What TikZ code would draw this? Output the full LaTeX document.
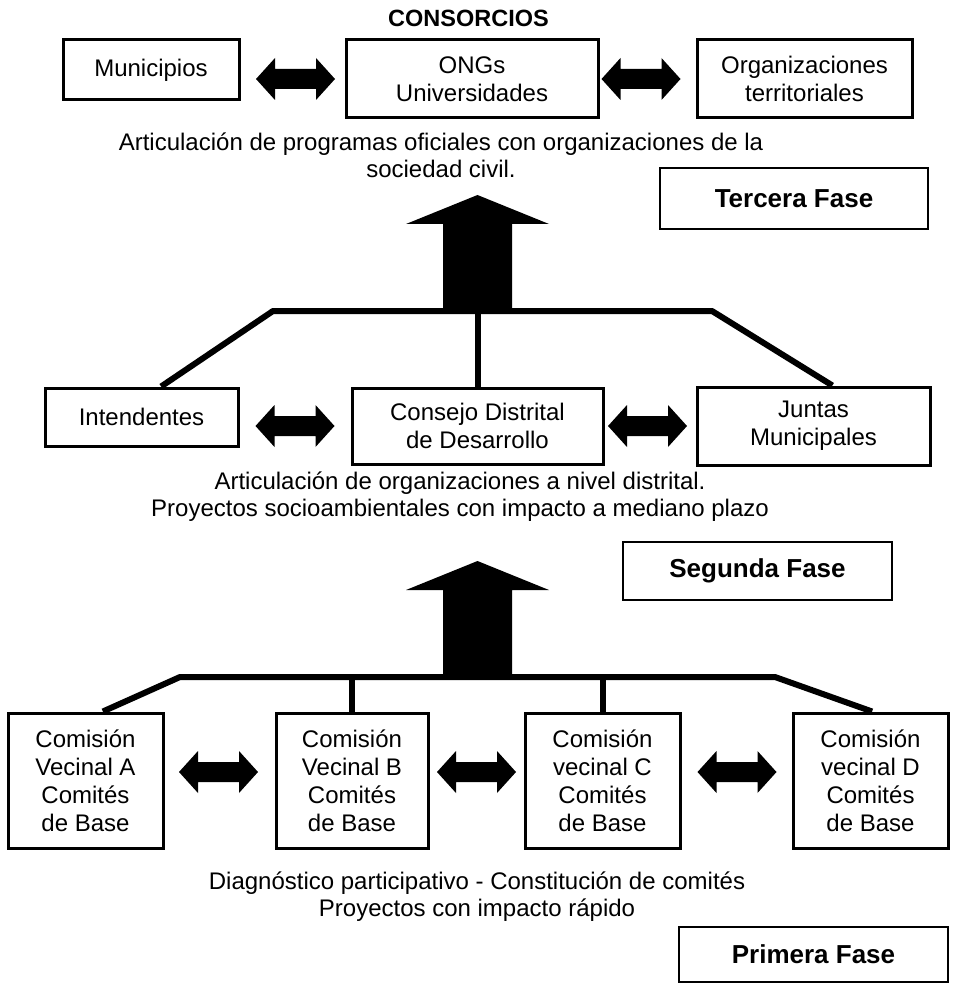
\documentclass[tikz,border=0pt]{standalone}
\usepackage{fontspec}
\setmainfont{Liberation Sans}
\usetikzlibrary{calc}
\tikzset{
  box/.style={draw, line width=3pt, align=center, inner sep=0pt, font=\fontsize{24}{28}\selectfont},
  fase/.style={draw, line width=2pt, inner sep=0pt, font=\bfseries\fontsize{26}{30}\selectfont},
  txt/.style={align=center, inner sep=0pt, font=\fontsize{24}{27}\selectfont},
  link/.style={line width=6pt, line join=bevel},
  dblarrow/.pic={\fill (-39.5,0) -- (-20.5,-21) -- (-20.5,-10) -- (20.5,-10) -- (20.5,-21) -- (39.5,0) -- (20.5,21) -- (20.5,10) -- (-20.5,10) -- (-20.5,21) -- cycle;},
  uparrow/.pic={\fill (0,0) -- (71.5,29) -- (34.5,29) -- (34.5,116) -- (-34.5,116) -- (-34.5,29) -- (-71.5,29) -- cycle;}
}
\begin{document}
\begin{tikzpicture}[x=1pt,y=-1pt]
\useasboundingbox (0,0) rectangle (954,984);
\fill[white] (0,0) rectangle (954,984);

% ---- Tercera fase (top) ----
\node[inner sep=0pt, font=\bfseries\fontsize{23.5}{27}\selectfont] (cons) at (468.5,18) {CONSORCIOS};
\node[box, minimum width=176, minimum height=60] (mun) at (151,70) {Municipios};
\node[box, minimum width=252, minimum height=78] (ong) at (472,79) {ONGs\\Universidades};
\node[box, minimum width=215, minimum height=78] (org) at (804.5,79) {Organizaciones\\territoriales};
\pic at (295.5,79) {dblarrow};
\pic at (641,79) {dblarrow};
\node[txt] (t3) at (441,155) {Articulación de programas oficiales con organizaciones de la\\sociedad civil.};
\node[fase, minimum width=268, minimum height=61] (f3) at (794,198.5) {Tercera Fase};

% ---- Segunda fase (middle) ----
\pic at (477.5,195) {uparrow};
\node[box, minimum width=193, minimum height=58] (int) at (141.5,417) {Intendentes};
\node[box, minimum width=251, minimum height=76] (cdd) at (477.5,426) {Consejo Distrital\\de Desarrollo};
\node[box, minimum width=233, minimum height=78] (jun) at (813.5,426) {Juntas\\Municipales};
\pic at (295,426) {dblarrow};
\pic at (647.5,426) {dblarrow};
\coordinate (b2l) at (273,311);
\coordinate (b2r) at (712,311);
\draw[link] ($(int.north west)!0.6!(int.north east)$) -- (b2l) -- (b2r) -- ($(jun.north west)!0.58!(jun.north east)$);
\draw[link] (cdd.north) -- (cdd.north |- b2l);
\node[txt] (t2) at (460,496.5) {Articulación de organizaciones a nivel distrital.\\Proyectos socioambientales con impacto a mediano plazo};
\node[fase, minimum width=269, minimum height=58] (f2) at (757.5,571) {Segunda Fase};

% ---- Primera fase (bottom) ----
\pic at (477.5,561) {uparrow};
\node[box, minimum width=155, minimum height=135] (ca) at (85.5,780.5) {Comisión\\Vecinal A\\Comités\\de Base};
\node[box, minimum width=152, minimum height=135] (cb) at (352,780.5) {Comisión\\Vecinal B\\Comités\\de Base};
\node[box, minimum width=155, minimum height=135] (cc) at (602.5,780.5) {Comisión\\vecinal C\\Comités\\de Base};
\node[box, minimum width=155, minimum height=135] (cd) at (870.5,780.5) {Comisión\\vecinal D\\Comités\\de Base};
\pic at (218.5,772) {dblarrow};
\pic at (476.5,772) {dblarrow};
\pic at (737,772) {dblarrow};
\coordinate (b1l) at (180,677);
\coordinate (b1r) at (775,677);
\draw[link] ($(ca.north west)!0.61!(ca.north east)$) -- (b1l) -- (b1r) -- ($(cd.north west)!0.51!(cd.north east)$);
\draw[link] (cb.north) -- (cb.north |- b1l);
\draw[link] (cc.north) -- (cc.north |- b1l);
\node[txt] (t1) at (477,897) {Diagnóstico participativo - Constitución de comités\\Proyectos con impacto rápido};
\node[fase, minimum width=269, minimum height=55] (f1) at (813.5,954.5) {Primera Fase};
\end{tikzpicture}
\end{document}
